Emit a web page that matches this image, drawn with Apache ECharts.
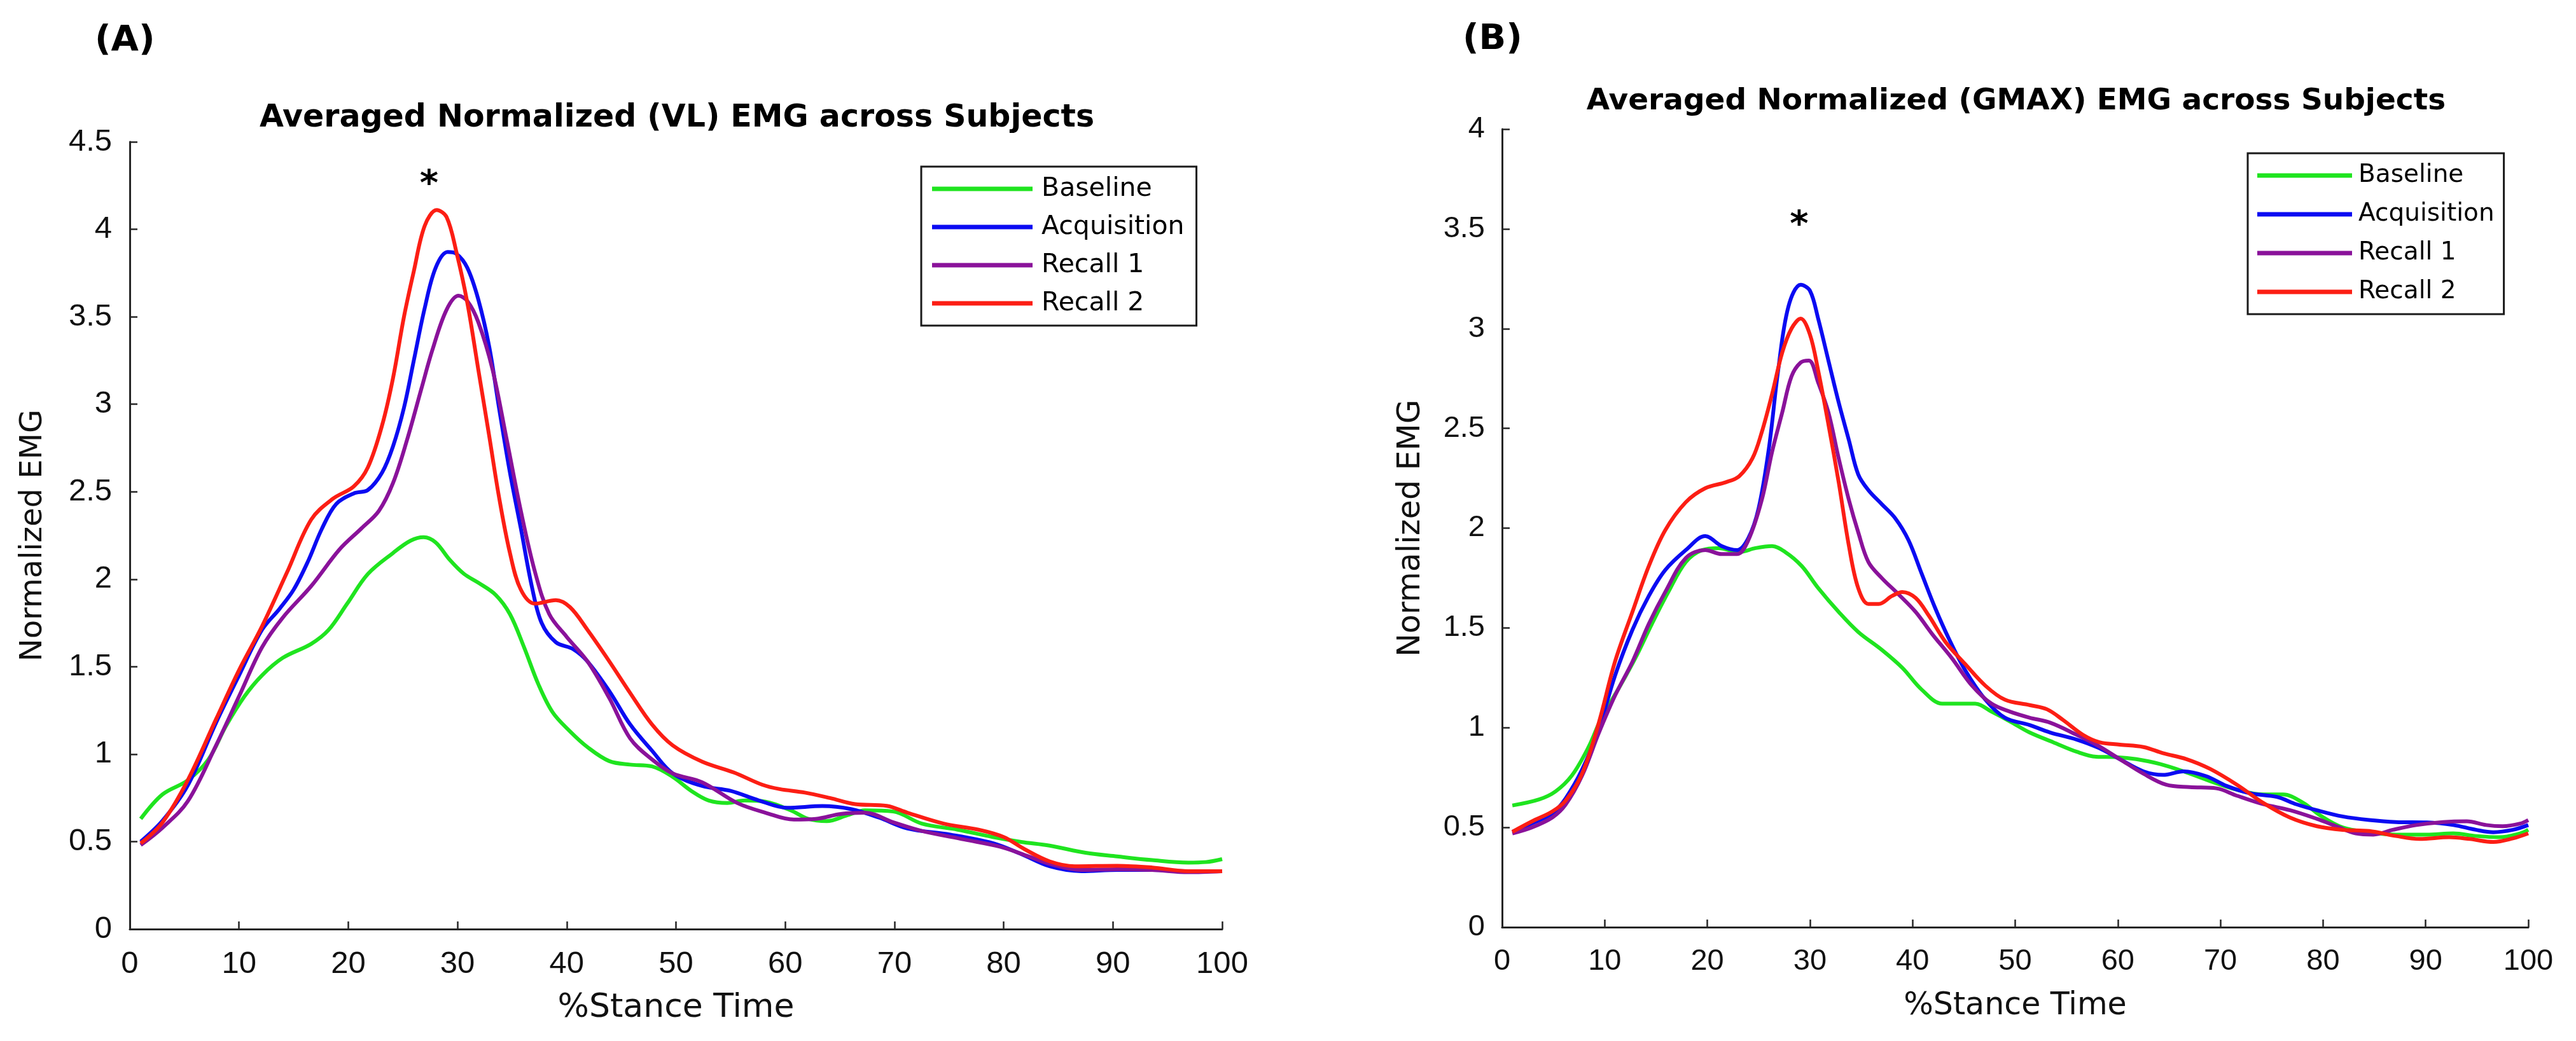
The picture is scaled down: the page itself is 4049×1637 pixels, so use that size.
<!DOCTYPE html>
<html>
<head>
<meta charset="utf-8">
<script src="https://cdn.jsdelivr.net/npm/echarts@6/dist/echarts.min.js"></script>
<style>
html,body{margin:0;padding:0;background:#ffffff;}
#main{width:4049px;height:1637px;}
</style>
</head>
<body>
<div id="main"></div>
<script>
// ---------------- DATA ----------------
const panelLabels = ['(A)', '(B)'];
const chartTitles = ['Averaged Normalized (VL) EMG across Subjects', 'Averaged Normalized (GMAX) EMG across Subjects'];
const xAxisName = '%Stance Time';
const yAxisName = 'Normalized EMG';
const seriesNames = ['Baseline', 'Acquisition', 'Recall 1', 'Recall 2'];
const yMaxA = 4.5;
const yMaxB = 4;

// Panel A (VL): [%stance, normalized EMG]
const vlBaseline = [[1,0.63],[3,0.77],[5.3,0.85],[7.2,0.97],[8.8,1.16],[10.5,1.33],[12.1,1.45],[14,1.55],[16.6,1.63],[18.2,1.71],[19.9,1.86],[21.8,2.03],[24.1,2.15],[25.7,2.22],[26.9,2.24],[28,2.21],[29.3,2.11],[30.6,2.03],[31.9,1.98],[33.5,1.91],[34.8,1.80],[36.1,1.61],[37.4,1.40],[38.7,1.24],[40.3,1.13],[41.9,1.04],[43.9,0.96],[45.8,0.94],[47.8,0.93],[49.7,0.87],[51.4,0.79],[53,0.735],[54.7,0.721],[56.3,0.735],[58.2,0.728],[60.5,0.679],[62.1,0.63],[63.8,0.617],[65.7,0.651],[67.3,0.679],[69.9,0.672],[72.5,0.603],[75.8,0.568],[79,0.526],[81.6,0.498],[84.2,0.477],[87.5,0.436],[90.4,0.415],[93.6,0.394],[96.9,0.38],[98.5,0.383],[100,0.40]];
const vlAcquisition = [[1,0.50],[3,0.62],[5.3,0.82],[7.9,1.18],[10,1.45],[12.1,1.71],[13.7,1.83],[15,1.94],[16.3,2.10],[17.6,2.29],[18.9,2.43],[20.5,2.49],[21.8,2.51],[23.1,2.61],[24.1,2.76],[25.1,2.98],[26,3.25],[27,3.55],[28,3.78],[29.1,3.87],[29.9,3.86],[30.9,3.78],[31.9,3.60],[32.9,3.33],[33.8,2.98],[34.8,2.61],[35.8,2.29],[36.8,1.96],[37.7,1.75],[39,1.64],[40.6,1.60],[41.9,1.53],[43.9,1.36],[45.8,1.17],[47.8,1.02],[49.7,0.89],[52.4,0.818],[55,0.79],[57.6,0.735],[60.2,0.693],[63.4,0.703],[66,0.686],[68.6,0.637],[71.2,0.575],[75.1,0.54],[79,0.491],[81.6,0.429],[84.2,0.359],[87.1,0.331],[90.4,0.338],[93.6,0.338],[96.9,0.331],[100,0.331]];
const vlRecall1 = [[1,0.48],[3,0.58],[5.3,0.73],[7.9,1.05],[10,1.33],[12.1,1.61],[14,1.78],[16.6,1.96],[19.2,2.17],[21.2,2.29],[22.8,2.39],[24.1,2.55],[25.4,2.80],[26.7,3.09],[27.7,3.31],[29,3.54],[30.1,3.62],[30.9,3.59],[31.9,3.47],[33.2,3.20],[34.5,2.80],[35.8,2.39],[37.1,2.04],[38.4,1.80],[40,1.67],[41.9,1.53],[43.9,1.32],[45.8,1.09],[47.8,0.97],[49.7,0.89],[52.4,0.839],[55.6,0.721],[58.2,0.665],[60.8,0.626],[62.8,0.63],[65.1,0.658],[67.3,0.665],[69.9,0.61],[72.5,0.561],[76.4,0.512],[79.7,0.47],[82.3,0.415],[84.2,0.373],[87.1,0.338],[90.4,0.342],[93.6,0.338],[96.9,0.325],[100,0.331]];
const vlRecall2 = [[1,0.49],[3,0.61],[5.3,0.85],[7.9,1.20],[10,1.48],[12.1,1.73],[14.4,2.04],[16.6,2.34],[18.6,2.46],[20.5,2.53],[21.8,2.64],[23.1,2.88],[24.1,3.15],[25.1,3.50],[26,3.76],[27,4.02],[28.1,4.11],[29,4.07],[29.9,3.87],[30.9,3.58],[31.9,3.20],[32.9,2.82],[33.8,2.47],[34.8,2.15],[35.8,1.94],[37.1,1.86],[39,1.88],[40.3,1.84],[41.9,1.71],[43.9,1.53],[45.8,1.35],[47.8,1.17],[49.7,1.05],[52.4,0.957],[55.3,0.895],[57.9,0.825],[59.5,0.80],[61.8,0.78],[64.1,0.749],[66.4,0.714],[69.3,0.704],[71.2,0.665],[74.5,0.603],[77.7,0.568],[80,0.526],[81.9,0.457],[84.2,0.387],[86.5,0.359],[90.4,0.362],[93.6,0.352],[96.9,0.331],[100,0.331]];

// Panel B (GMAX)
const gmBaseline = [[1,0.61],[3.6,0.64],[5.2,0.68],[6.8,0.76],[8.4,0.90],[9.7,1.05],[11.4,1.20],[13,1.35],[14.6,1.52],[16.2,1.68],[17.9,1.83],[19.5,1.89],[21.1,1.90],[23.1,1.88],[24.7,1.90],[26.3,1.91],[27.6,1.88],[29.2,1.81],[30.8,1.70],[32.8,1.58],[34.7,1.48],[37,1.39],[39,1.30],[40.9,1.19],[42.9,1.12],[44.5,1.12],[46.1,1.12],[47.7,1.08],[49.5,1.031],[51.4,0.976],[53.7,0.927],[56,0.879],[57.9,0.854],[59.9,0.852],[61.8,0.842],[64.1,0.818],[66.4,0.781],[69,0.732],[71.6,0.689],[74.2,0.665],[76.1,0.665],[78.1,0.622],[79.7,0.561],[81.9,0.50],[84.5,0.476],[87.1,0.464],[90.1,0.464],[92.7,0.47],[94.9,0.457],[97.2,0.451],[99.2,0.47],[100,0.488]];
const gmAcquisition = [[1,0.478],[2.9,0.52],[4.9,0.57],[6.2,0.646],[7.8,0.79],[9.4,0.99],[11,1.26],[12.7,1.49],[14.3,1.66],[15.9,1.79],[17.9,1.89],[19.8,1.96],[21.4,1.91],[22.9,1.89],[24,1.95],[25,2.10],[26,2.40],[26.9,2.79],[27.9,3.11],[29.1,3.22],[30,3.19],[30.8,3.05],[31.8,2.84],[32.8,2.63],[33.8,2.44],[34.7,2.27],[35.7,2.19],[37,2.12],[38.3,2.05],[39.6,1.94],[40.9,1.77],[42.2,1.60],[43.5,1.45],[45.1,1.29],[47.1,1.14],[49,1.05],[51.4,1.013],[53.4,0.976],[56,0.94],[58.2,0.897],[60.2,0.842],[62.5,0.781],[64.4,0.763],[66.4,0.781],[68.6,0.757],[70.6,0.708],[72.9,0.671],[75.5,0.653],[77.4,0.616],[79.4,0.586],[81.9,0.555],[84.5,0.537],[87.1,0.527],[90.1,0.525],[92.7,0.512],[94.9,0.488],[96.6,0.476],[98.5,0.488],[100,0.512]];
const gmRecall1 = [[1,0.47],[2.9,0.50],[4.9,0.55],[6.2,0.615],[7.8,0.76],[9.4,0.97],[11,1.16],[12.7,1.33],[14.3,1.52],[15.9,1.68],[17.9,1.85],[19.8,1.89],[21.4,1.87],[22.9,1.87],[24,1.94],[25.3,2.14],[26.3,2.38],[27.3,2.58],[28.2,2.76],[29.1,2.83],[29.9,2.84],[30.8,2.73],[31.8,2.58],[32.8,2.35],[33.8,2.14],[34.7,1.98],[35.7,1.83],[37,1.75],[38.6,1.67],[40.3,1.58],[41.9,1.47],[43.8,1.35],[45.8,1.21],[47.7,1.12],[49.5,1.08],[51.4,1.05],[53.4,1.025],[56,0.964],[57.9,0.915],[60.2,0.842],[62.5,0.769],[64.7,0.714],[67,0.702],[69.6,0.696],[71.6,0.659],[74.2,0.616],[76.8,0.586],[79.4,0.543],[81.3,0.506],[83.2,0.47],[84.9,0.464],[86.8,0.488],[89.1,0.512],[91.7,0.527],[94,0.531],[95.9,0.512],[97.5,0.506],[99.2,0.519],[100,0.537]];
const gmRecall2 = [[1,0.478],[2.9,0.53],[4.9,0.58],[6.2,0.635],[7.8,0.77],[9.4,1.02],[11,1.33],[12.7,1.58],[14.3,1.81],[15.9,1.99],[17.9,2.13],[19.8,2.20],[21.8,2.23],[23.1,2.26],[24.4,2.35],[25.3,2.48],[26.3,2.67],[27.3,2.88],[28.2,3.00],[29.1,3.05],[30,2.97],[30.8,2.79],[31.8,2.52],[32.8,2.23],[33.8,1.91],[34.7,1.70],[35.7,1.62],[36.7,1.62],[38,1.66],[39,1.68],[40.3,1.65],[41.6,1.56],[43.2,1.43],[45.1,1.32],[47.1,1.21],[49,1.14],[51.4,1.113],[53.1,1.092],[54.7,1.037],[56.6,0.964],[58.2,0.927],[60.2,0.915],[62.5,0.903],[64.4,0.872],[66.7,0.842],[69,0.793],[71.6,0.714],[74.2,0.622],[76.8,0.549],[79.4,0.506],[81.9,0.488],[84.5,0.482],[87.1,0.457],[89.4,0.442],[92.3,0.451],[94.3,0.442],[96.6,0.427],[98.5,0.445],[100,0.47]];

// significance markers [%stance, value]
const starA = [27.4, 4.29];
const starB = [28.95, 3.55];

// ---------------- STYLE / LAYOUT ----------------
const FONT = "'DejaVu Sans', sans-serif";
const TICK_FONT = "'Liberation Sans', Arial, sans-serif";
const seriesColors = ['#1fe41f', '#0b0bf2', '#8a129a', '#fc1e14'];
const AXIS_COLOR = '#262626';
const TEXT_COLOR = '#111111';

function textWidth(text, font) {
  const c = document.createElement('canvas').getContext('2d');
  c.font = font;
  return c.measureText(text).width;
}

const panels = [
  {
    data: [vlBaseline, vlAcquisition, vlRecall1, vlRecall2], star: starA, yMax: yMaxA,
    grid: {left: 204, top: 223, width: 1717, height: 1238},
    titleCx: 1064, titleCy: 186, titleSize: 49,
    label: {left: 149, top: 36},
    tickSize: 49, xNameSize: 52, yNameSize: 48, xNameGap: 98, yNameGap: 127, yLabelMargin: 28, xLabelMargin: 31,
    legend: {left: 1448, top: 262, itemWidth: 158, itemGap: 15, fontSize: 41, padding: [12.5, 19, 12.5, 17], textPad: 9}
  },
  {
    data: [gmBaseline, gmAcquisition, gmRecall1, gmRecall2], star: starB, yMax: yMaxB,
    grid: {left: 2361, top: 203, width: 1613, height: 1255},
    titleCx: 3169, titleCy: 160, titleSize: 47,
    label: {left: 2299, top: 34},
    tickSize: 47, xNameSize: 49, yNameSize: 49, xNameGap: 100, yNameGap: 118, yLabelMargin: 27, xLabelMargin: 31,
    legend: {left: 3533, top: 241, itemWidth: 149, itemGap: 16, fontSize: 39, padding: [12.5, 15, 12.5, 15], textPad: 5}
  }
];

const option = {
  animation: false,
  backgroundColor: '#ffffff',
  title: [],
  legend: [],
  grid: [],
  xAxis: [],
  yAxis: [],
  series: []
};

panels.forEach((p, i) => {
  option.grid.push(Object.assign({containLabel: false}, p.grid));

  const tw = textWidth(chartTitles[i], 'bold ' + p.titleSize + 'px ' + FONT);
  option.title.push({
    text: chartTitles[i], left: p.titleCx - tw / 2, top: p.titleCy - p.titleSize / 2, padding: 0,
    textStyle: {fontFamily: FONT, fontSize: p.titleSize, fontWeight: 'bold', color: '#000'}
  });
  option.title.push({
    text: panelLabels[i], left: p.label.left, top: p.label.top, padding: 0,
    textStyle: {fontFamily: FONT, fontSize: 56, fontWeight: 'bold', color: '#000'}
  });

  option.legend.push({
    data: seriesNames, orient: 'vertical', left: p.legend.left, top: p.legend.top,
    icon: 'rect', itemWidth: p.legend.itemWidth, itemHeight: 7, itemGap: p.legend.itemGap,
    padding: p.legend.padding, borderColor: '#1a1a1a', borderWidth: 3, backgroundColor: '#ffffff',
    selectedMode: false,
    textStyle: {fontFamily: FONT, fontSize: p.legend.fontSize, lineHeight: 45, color: '#000', padding: [0, 0, 0, p.legend.textPad]}
  });

  option.xAxis.push({
    type: 'value', gridIndex: i, min: 0, max: 100, interval: 10,
    name: xAxisName, nameLocation: 'middle', nameGap: p.xNameGap,
    nameTextStyle: {fontFamily: FONT, fontSize: p.xNameSize, color: TEXT_COLOR},
    axisLine: {show: true, onZero: false, lineStyle: {color: AXIS_COLOR, width: 3}},
    axisTick: {show: true, inside: true, length: 12, lineStyle: {color: AXIS_COLOR, width: 2.5}},
    axisLabel: {fontFamily: TICK_FONT, fontSize: p.tickSize, color: TEXT_COLOR, margin: p.xLabelMargin},
    splitLine: {show: false}
  });
  option.yAxis.push({
    type: 'value', gridIndex: i, min: 0, max: p.yMax, interval: 0.5,
    name: yAxisName, nameLocation: 'middle', nameGap: p.yNameGap, nameRotate: 90,
    nameTextStyle: {fontFamily: FONT, fontSize: p.yNameSize, color: TEXT_COLOR},
    axisLine: {show: true, onZero: false, lineStyle: {color: AXIS_COLOR, width: 3}},
    axisTick: {show: true, inside: true, length: 12, lineStyle: {color: AXIS_COLOR, width: 2.5}},
    axisLabel: {fontFamily: TICK_FONT, fontSize: p.tickSize, color: TEXT_COLOR, margin: p.yLabelMargin},
    splitLine: {show: false}
  });

  p.data.forEach((d, k) => {
    const s = {
      type: 'line', name: seriesNames[k], xAxisIndex: i, yAxisIndex: i,
      data: d, smooth: 0.35, showSymbol: false, symbol: 'none',
      lineStyle: {color: seriesColors[k], width: 6},
      itemStyle: {color: seriesColors[k]},
      emphasis: {disabled: true}
    };
    if (k === seriesNames.length - 1) {
      s.markPoint = {
        symbol: 'circle', symbolSize: 0, silent: true,
        itemStyle: {color: 'rgba(0,0,0,0)'},
        label: {show: true, formatter: '*', position: 'inside', offset: [0, 11],
                fontFamily: FONT, fontSize: 56, fontWeight: 'bold', color: '#000'},
        data: [{coord: p.star}]
      };
    }
    option.series.push(s);
  });
});

const chart = echarts.init(document.getElementById('main'), null, {renderer: 'canvas'});
chart.setOption(option);
</script>
</body>
</html>
